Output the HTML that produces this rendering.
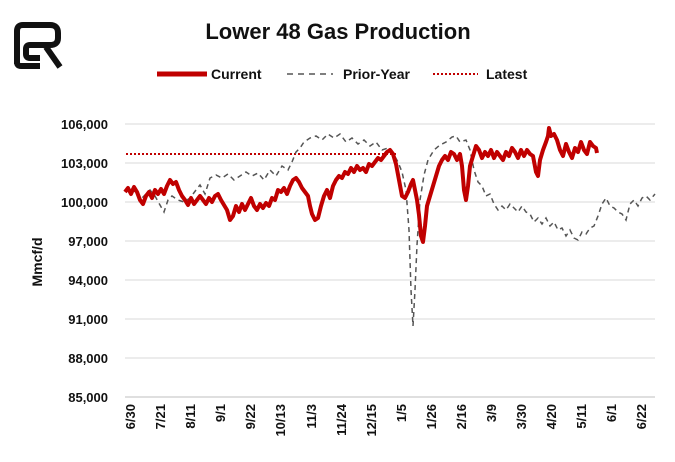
<!DOCTYPE html>
<html><head><meta charset="utf-8"><style>
body{margin:0;background:#fff}
svg{display:block;font-family:"Liberation Sans",Arial,sans-serif}
</style></head><body>
<svg width="675" height="462" viewBox="0 0 675 462" xmlns="http://www.w3.org/2000/svg">
<rect width="675" height="462" fill="#fff"/>
<!-- logo -->
<g fill="none" stroke="#111" stroke-width="6" stroke-linejoin="round">
<path d="M17 64 V31 Q17 25 23 25 H50 Q58 25 58 33 V38 Q58 45 50 45 H30 Q26 45 26 49 V54 Q26 58 30 58 H40"/>
<path d="M17 62 Q17 66 21 66 H40"/>
<path d="M46 47 L60 67"/>
</g>
<text x="338" y="39" font-size="22" font-weight="bold" text-anchor="middle" fill="#111">Lower 48 Gas Production</text>
<!-- legend -->
<line x1="157" y1="74" x2="207" y2="74" stroke="#c00000" stroke-width="5"/>
<text x="211" y="79" font-size="14" font-weight="bold" fill="#111">Current</text>
<line x1="287" y1="74" x2="333" y2="74" stroke="#555" stroke-width="1.5" stroke-dasharray="6,5"/>
<text x="343" y="79" font-size="14" font-weight="bold" fill="#111">Prior-Year</text>
<line x1="433" y1="74" x2="478" y2="74" stroke="#c00000" stroke-width="2" stroke-dasharray="2,2"/>
<text x="486" y="79" font-size="14" font-weight="bold" fill="#111">Latest</text>
<!-- grid -->
<g stroke="#d9d9d9" stroke-width="1">
<line x1="125" x2="655" y1="124" y2="124"/><line x1="125" x2="655" y1="163" y2="163"/>
<line x1="125" x2="655" y1="202" y2="202"/><line x1="125" x2="655" y1="241" y2="241"/>
<line x1="125" x2="655" y1="280" y2="280"/><line x1="125" x2="655" y1="319" y2="319"/>
<line x1="125" x2="655" y1="358" y2="358"/>
</g>
<line x1="125" x2="655" y1="397" y2="397" stroke="#bfbfbf"/>
<g font-size="13" font-weight="bold" fill="#111" text-anchor="end">
<text x="108" y="129">106,000</text><text x="108" y="168">103,000</text>
<text x="108" y="207">100,000</text><text x="108" y="246">97,000</text>
<text x="108" y="285">94,000</text><text x="108" y="324">91,000</text>
<text x="108" y="363">88,000</text><text x="108" y="402">85,000</text>
</g>
<text transform="translate(42,262) rotate(-90)" font-size="14" font-weight="bold" text-anchor="middle" fill="#111">Mmcf/d</text>
<g font-size="13" font-weight="bold" fill="#111" text-anchor="end">
<text transform="translate(135,404) rotate(-90)">6/30</text>
<text transform="translate(165,404) rotate(-90)">7/21</text>
<text transform="translate(195,404) rotate(-90)">8/11</text>
<text transform="translate(225,404) rotate(-90)">9/1</text>
<text transform="translate(255,404) rotate(-90)">9/22</text>
<text transform="translate(285,404) rotate(-90)">10/13</text>
<text transform="translate(316,404) rotate(-90)">11/3</text>
<text transform="translate(346,404) rotate(-90)">11/24</text>
<text transform="translate(376,404) rotate(-90)">12/15</text>
<text transform="translate(406,404) rotate(-90)">1/5</text>
<text transform="translate(436,404) rotate(-90)">1/26</text>
<text transform="translate(466,404) rotate(-90)">2/16</text>
<text transform="translate(496,404) rotate(-90)">3/9</text>
<text transform="translate(526,404) rotate(-90)">3/30</text>
<text transform="translate(556,404) rotate(-90)">4/20</text>
<text transform="translate(586,404) rotate(-90)">5/11</text>
<text transform="translate(616,404) rotate(-90)">6/1</text>
<text transform="translate(646,404) rotate(-90)">6/22</text>
</g>
<!-- latest -->
<line x1="126" x2="397" y1="154" y2="154" stroke="#c00000" stroke-width="2" stroke-dasharray="2,2"/>
<!-- prior year -->
<polyline fill="none" stroke="#555" stroke-width="1.5" stroke-dasharray="5,4" points="125,190 130,186 135,192 140,200 145,195 150,190 155,196 160,205 164,212 168,200 172,196 178,200 184,202 190,198 196,190 200,185 205,194 210,178 216,175 222,178 228,174 234,180 240,176 246,172 252,176 258,173 264,180 270,170 276,176 282,166 288,170 292,162 296,152 300,148 304,142 310,138 316,136 322,140 328,134 334,138 340,134 346,142 352,138 358,144 364,140 370,146 376,142 382,150 388,148 394,155 398,162 402,172 406,190 409,230 411,290 413,326 415,290 417,245 420,200 424,175 428,160 434,150 440,145 446,142 452,137 456,136 460,142 466,140 470,150 474,170 478,182 482,186 486,196 490,194 494,204 498,210 502,206 506,210 510,204 514,208 518,212 522,206 526,212 530,214 534,222 538,218 542,224 546,218 550,226 554,222 558,230 562,228 566,236 570,230 574,238 578,240 582,232 586,234 590,228 594,226 598,216 602,204 606,198 610,206 614,208 618,212 622,214 626,220 630,204 634,200 638,206 642,198 646,196 650,200 655,194"/>
<!-- current -->
<polyline fill="none" stroke="#c00000" stroke-width="4" stroke-linejoin="round" points="125,192 128,188 131,194 134,187 137,192 140,200 143,204 146,196 149,192 152,198 155,190 158,194 161,189 164,194 167,186 170,180 173,184 176,182 179,190 182,196 185,200 188,205 191,198 194,204 197,200 200,196 203,200 206,204 209,198 212,202 215,196 218,194 221,200 224,205 227,210 230,220 233,216 236,206 239,212 242,204 245,210 248,204 251,198 254,206 257,210 260,204 263,208 266,203 269,206 272,198 275,200 278,190 281,192 284,188 287,194 290,186 293,180 296,178 299,182 302,188 305,192 308,196 310,206 312,214 315,220 318,218 321,206 324,196 327,190 330,198 333,186 336,180 339,176 342,178 345,172 348,174 351,168 354,172 357,166 360,170 363,168 366,172 369,164 372,166 375,162 378,158 381,160 384,156 387,152 390,150 393,154 396,164 399,180 402,196 405,198 408,192 411,184 413,180 415,190 417,200 419,215 421,236 423,242 425,226 427,206 430,196 433,186 436,176 439,166 442,160 445,156 448,160 451,152 454,154 457,160 460,154 462,166 464,190 466,200 468,186 470,166 473,156 476,146 479,150 482,158 485,152 488,156 491,150 494,158 497,152 500,156 503,160 506,152 509,156 512,148 515,152 518,158 521,150 524,156 527,150 530,154 533,156 536,172 538,176 540,160 543,150 546,142 548,136 549,128 551,136 554,134 557,140 560,150 563,156 566,144 569,152 572,158 575,148 578,152 581,142 584,150 587,154 590,142 593,146 596,148 597,153"/>
</svg>
</body></html>
